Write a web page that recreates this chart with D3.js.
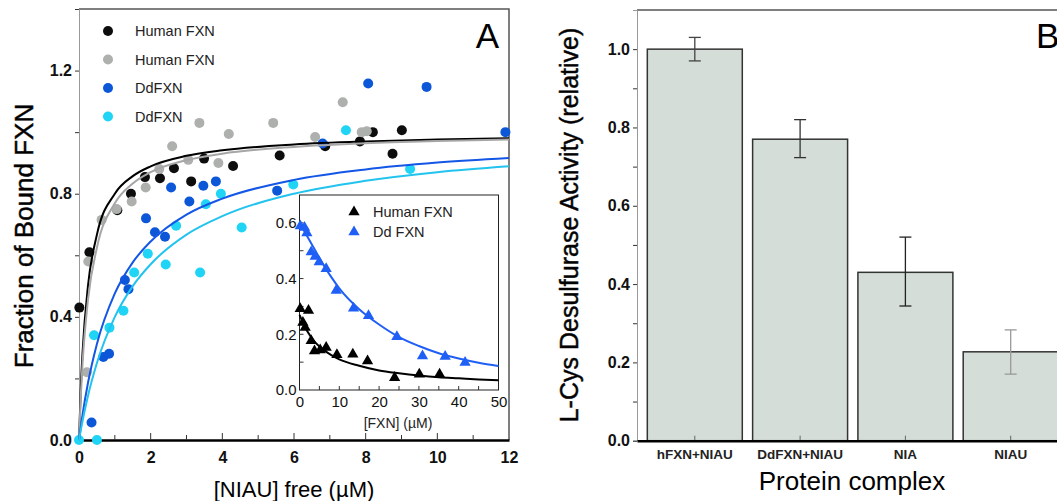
<!DOCTYPE html>
<html>
<head>
<meta charset="utf-8">
<script src="https://cdn.jsdelivr.net/npm/d3@7"></script>
<style>
  body { margin: 0; background: #fff; }
  svg { display: block; font-family: "Liberation Sans", Arial, sans-serif; }
</style>
</head>
<body>
<div id="chart"></div>
<script>
// ---- panel A: binding data (x = [NIAU] free uM, y = fraction bound) ----
const humanA_x = [0.01, 0.29, 1.07, 1.45, 1.84, 2.26, 2.65, 3.13, 3.49, 4.3, 5.6, 6.87, 7.84, 8.2, 8.75, 9.01];
const humanA_y = [0.43, 0.61, 0.746, 0.80, 0.854, 0.85, 0.883, 0.84, 0.914, 0.89, 0.924, 0.954, 0.97, 1.0, 0.93, 1.006];
const humanB_x = [0.22, 0.26, 0.63, 1.05, 1.47, 1.86, 2.24, 2.6, 3.05, 3.36, 3.89, 4.18, 5.42, 6.59, 7.36, 7.89, 8.03];
const humanB_y = [0.22, 0.58, 0.715, 0.75, 0.775, 0.82, 0.88, 0.954, 0.91, 1.03, 0.90, 0.994, 1.03, 0.984, 1.097, 1.0, 1.003];
const ddA_x = [0.35, 0.68, 0.84, 1.28, 1.38, 1.87, 2.12, 2.4, 2.57, 3.08, 3.47, 3.82, 5.53, 6.8, 8.07, 9.7, 11.9];
const ddA_y = [0.057, 0.27, 0.28, 0.52, 0.49, 0.72, 0.675, 0.66, 0.82, 0.775, 0.826, 0.84, 0.81, 0.963, 1.158, 1.147, 1.0];
const ddB_x = [0, 0.5, 0.42, 0.85, 1.24, 1.54, 1.92, 2.42, 2.71, 3.38, 3.54, 3.96, 4.54, 5.98, 7.45, 9.24];
const ddB_y = [0, 0, 0.34, 0.365, 0.42, 0.544, 0.605, 0.57, 0.696, 0.544, 0.766, 0.80, 0.69, 0.83, 1.006, 0.88];

// fitted curves
const fitX      = [0, 0.05, 0.1, 0.25, 0.5, 1, 1.5, 2, 3, 4, 6, 8, 10, 12];
const humanAFit = [0, 0.167, 0.286, 0.5, 0.667, 0.8, 0.857, 0.889, 0.923, 0.941, 0.96, 0.97, 0.976, 0.98];
const humanBFit = [0, 0.143, 0.25, 0.455, 0.625, 0.769, 0.833, 0.87, 0.909, 0.93, 0.952, 0.964, 0.971, 0.976];
const ddAFit    = [0, 0.043, 0.083, 0.185, 0.312, 0.476, 0.577, 0.645, 0.732, 0.784, 0.845, 0.879, 0.901, 0.916];
const ddBFit    = [0, 0.032, 0.0625, 0.143, 0.25, 0.4, 0.5, 0.571, 0.667, 0.727, 0.8, 0.842, 0.87, 0.889];

// ---- inset: competition ----
const inHuman_x = [0.18, 0.85, 1.43, 2.26, 2.94, 3.77, 5.2, 6.7, 9.4, 13.4, 17.1, 23.9, 30.1, 35.2];
const inHuman_y = [0.295, 0.246, 0.228, 0.289, 0.18, 0.144, 0.147, 0.156, 0.13, 0.132, 0.108, 0.048, 0.06, 0.06];
const inDd_x = [0.2, 1.26, 1.85, 2.94, 3.94, 4.95, 6.7, 9.22, 13.57, 17.34, 24.47, 30.9, 36.6, 41.6];
const inDd_y = [0.592, 0.587, 0.567, 0.499, 0.483, 0.463, 0.439, 0.361, 0.297, 0.27, 0.195, 0.126, 0.124, 0.102];
const inFitX     = [0, 2, 4, 6, 8, 10, 15, 20, 25, 30, 35, 40, 45, 50];
const inHumanFit = [0.27, 0.21, 0.17, 0.145, 0.125, 0.11, 0.087, 0.07, 0.06, 0.052, 0.046, 0.042, 0.038, 0.035];
const inDdFit    = [0.6, 0.55, 0.5, 0.45, 0.405, 0.365, 0.29, 0.235, 0.19, 0.158, 0.132, 0.113, 0.098, 0.086];

// ---- panel B: activity ----
const complexes = ["hFXN+NIAU", "DdFXN+NIAU", "NIA", "NIAU"];
const activity  = [1.0, 0.77, 0.43, 0.227];
const errLow    = [0.97, 0.723, 0.344, 0.17];
const errHigh   = [1.03, 0.82, 0.52, 0.283];

const svg = d3.select("#chart").append("svg")
    .attr("width", 1057)
    .attr("height", 501);

const zip = (xs, ys) => xs.map((x, i) => ({x: x, y: ys[i]}));

// ================= PANEL A =================
const xA = d3.scaleLinear().domain([0, 12]).range([79, 509]);
const yA = d3.scaleLinear().domain([0, 1.4]).range([440, 9]);

const gA = svg.append("g");

// frame (top + right)
gA.append("path")
    .attr("d", `M${xA(0)},${yA(1.4)}H${xA(12)}V${yA(0)}`)
    .attr("fill", "none").attr("stroke", "#555").attr("stroke-width", 1.5);

// y axis
const yAxisA = gA.append("g").attr("transform", `translate(${xA(0)},0)`)
    .call(d3.axisLeft(yA).tickValues(d3.range(0, 1.41, 0.2)).tickSize(4)
        .tickFormat(d => (Math.round(d * 10) % 4 === 0) ? d3.format(".1f")(d) : ""));
yAxisA.select(".domain").attr("stroke", "#999").attr("stroke-width", 1);
yAxisA.selectAll(".tick line").attr("stroke", "#333");
yAxisA.selectAll("text").attr("font-size", 16).attr("font-weight", "bold").attr("fill", "#111");

// x axis
const xAxisA = gA.append("g").attr("transform", `translate(0,${yA(0)})`)
    .call(d3.axisBottom(xA).tickValues(d3.range(0, 13, 1)).tickSize(0).tickPadding(12)
        .tickFormat(d => d % 2 === 0 ? d : ""));
xAxisA.select(".domain").attr("stroke", "#000").attr("stroke-width", 2.5);
xAxisA.selectAll(".tick line").remove();
xAxisA.selectAll("text").attr("font-size", 16).attr("font-weight", "bold").attr("fill", "#111");
gA.selectAll(".xtickA")
    .data(d3.range(1, 12, 1))
    .enter().append("line")
    .attr("x1", d => xA(d)).attr("x2", d => xA(d))
    .attr("y1", yA(0)).attr("y2", d => yA(0) - (d % 2 === 0 ? 7 : 5))
    .attr("stroke", "#333");

gA.append("text")
    .attr("transform", "translate(33,236) rotate(-90)")
    .attr("text-anchor", "middle")
    .attr("font-size", 26)
    .attr("stroke", "#111").attr("stroke-width", 0.5)
    .text("Fraction of Bound FXN");

gA.append("text")
    .attr("x", xA(6)).attr("y", 497)
    .attr("text-anchor", "middle")
    .attr("font-size", 22)
    .text("[NIAU] free (\u00b5M)");

gA.append("text")
    .attr("x", 499).attr("y", 48)
    .attr("text-anchor", "end")
    .attr("font-size", 35)
    .text("A");

const seriesA = [
    {name: "Human FXN", pts: zip(humanA_x, humanA_y), fit: humanAFit, dot: "#0d0d0d", line: "#000"},
    {name: "Human FXN", pts: zip(humanB_x, humanB_y), fit: humanBFit, dot: "#adb0ad", line: "#a6a6a6"},
    {name: "DdFXN", pts: zip(ddA_x, ddA_y), fit: ddAFit, dot: "#0c56d8", line: "#1456e6"},
    {name: "DdFXN", pts: zip(ddB_x, ddB_y), fit: ddBFit, dot: "#1fd4f4", line: "#22c3ef"}
];

const lineA = d3.line().x(d => xA(d.x)).y(d => yA(d.y)).curve(d3.curveMonotoneX);

seriesA.forEach(s => {
    gA.append("g").selectAll("circle")
        .data(s.pts)
        .enter().append("circle")
        .attr("cx", d => xA(d.x))
        .attr("cy", d => yA(d.y))
        .attr("r", 5)
        .attr("fill", s.dot);
});
seriesA.forEach(s => {
    gA.append("path")
        .datum(zip(fitX, s.fit))
        .attr("d", lineA)
        .attr("fill", "none")
        .attr("stroke", s.line)
        .attr("stroke-width", 2);
});

// legend
const legA = gA.append("g");
seriesA.forEach((s, i) => {
    legA.append("circle").attr("cx", 108).attr("cy", 31 + i * 28.5).attr("r", 5).attr("fill", s.dot);
    legA.append("text").attr("x", 135).attr("y", 36 + i * 28.5)
        .attr("font-size", 14.5).attr("fill", "#222").text(s.name);
});

// ================= INSET =================
const xI = d3.scaleLinear().domain([0, 50]).range([299.5, 498.5]);
const yI = d3.scaleLinear().domain([0, 0.7]).range([390, 195]);
const gI = svg.append("g");

gI.append("rect")
    .attr("x", xI(0)).attr("y", yI(0.7))
    .attr("width", xI(50) - xI(0)).attr("height", yI(0) - yI(0.7))
    .attr("fill", "#fff").attr("stroke", "#222").attr("stroke-width", 1);

const yAxisI = gI.append("g").attr("transform", `translate(${xI(0)},0)`)
    .call(d3.axisLeft(yI).tickValues([0, 0.1, 0.2, 0.3, 0.4, 0.5, 0.6]).tickSize(0).tickPadding(3)
        .tickFormat(d => (Math.round(d * 10) % 2 === 0) ? d3.format(".1f")(d) : ""));
yAxisI.select(".domain").remove();
yAxisI.selectAll("text").attr("font-size", 15).attr("fill", "#111");
gI.selectAll(".ytickI")
    .data([0.1, 0.2, 0.3, 0.4, 0.5, 0.6])
    .enter().append("line")
    .attr("x1", xI(0)).attr("x2", xI(0) + 4)
    .attr("y1", d => yI(d)).attr("y2", d => yI(d))
    .attr("stroke", "#333");

const xAxisI = gI.append("g").attr("transform", `translate(0,${yI(0)})`)
    .call(d3.axisBottom(xI).tickValues(d3.range(0, 51, 10)).tickSize(0).tickPadding(6));
xAxisI.select(".domain").remove();
xAxisI.selectAll("text").attr("font-size", 15).attr("fill", "#111");
gI.selectAll(".xtickI")
    .data(d3.range(5, 50, 5))
    .enter().append("line")
    .attr("x1", d => xI(d)).attr("x2", d => xI(d))
    .attr("y1", yI(0)).attr("y2", yI(0) - 4)
    .attr("stroke", "#333");

gI.append("text")
    .attr("x", 398).attr("y", 428)
    .attr("text-anchor", "middle")
    .attr("font-size", 14).attr("fill", "#222")
    .text("[FXN] (\u00b5M)");

const lineI = d3.line().x(d => xI(d.x)).y(d => yI(d.y)).curve(d3.curveMonotoneX);
const seriesI = [
    {name: "Human FXN", pts: zip(inHuman_x, inHuman_y), fit: inHumanFit, color: "#000"},
    {name: "Dd FXN", pts: zip(inDd_x, inDd_y), fit: inDdFit, color: "#1f5ff5"}
];
const tri = d3.symbol().type(d3.symbolTriangle).size(55);

seriesI.forEach(s => {
    gI.append("path")
        .datum(zip(inFitX, s.fit))
        .attr("d", lineI)
        .attr("fill", "none")
        .attr("stroke", s.color)
        .attr("stroke-width", 2);
    gI.append("g").selectAll("path")
        .data(s.pts)
        .enter().append("path")
        .attr("d", tri)
        .attr("transform", d => `translate(${xI(d.x)},${yI(d.y) + 1})`)
        .attr("fill", s.color);
});

seriesI.forEach((s, i) => {
    gI.append("path").attr("d", tri)
        .attr("transform", `translate(354,${212 + i * 20})`)
        .attr("fill", s.color);
    gI.append("text").attr("x", 373).attr("y", 217 + i * 20)
        .attr("font-size", 14.5).attr("fill", "#222").text(s.name);
});

// ================= PANEL B =================
const xB = d3.scaleBand().domain(complexes).range([637, 1068.5]).paddingInner(0.098).paddingOuter(0.098);
const yB = d3.scaleLinear().domain([0, 1.1]).range([440.7, 10]);
const gB = svg.append("g");

gB.append("line")
    .attr("x1", 637).attr("x2", 1057).attr("y1", yB(1.1)).attr("y2", yB(1.1))
    .attr("stroke", "#555").attr("stroke-width", 1.5);

gB.selectAll(".bar")
    .data(complexes)
    .enter().append("rect")
    .attr("class", "bar")
    .attr("x", d => xB(d))
    .attr("y", (d, i) => yB(activity[i]))
    .attr("width", xB.bandwidth())
    .attr("height", (d, i) => yB(0) - yB(activity[i]))
    .attr("fill", "#d4ddd8")
    .attr("stroke", "#333")
    .attr("stroke-width", 1.5);

const errColors = ["#444", "#333", "#222", "#999"];
complexes.forEach((c, i) => {
    const cx = xB(c) + xB.bandwidth() / 2;
    const g = gB.append("g").attr("stroke", errColors[i]).attr("stroke-width", 1.3);
    g.append("line").attr("x1", cx).attr("x2", cx).attr("y1", yB(errLow[i])).attr("y2", yB(errHigh[i]));
    g.append("line").attr("x1", cx - 6).attr("x2", cx + 6).attr("y1", yB(errLow[i])).attr("y2", yB(errLow[i]));
    g.append("line").attr("x1", cx - 6).attr("x2", cx + 6).attr("y1", yB(errHigh[i])).attr("y2", yB(errHigh[i]));
    gB.append("line").attr("x1", cx).attr("x2", cx).attr("y1", yB(0)).attr("y2", yB(0) - 5)
        .attr("stroke", "#666");
});

const yAxisB = gB.append("g").attr("transform", "translate(637,0)")
    .call(d3.axisLeft(yB).tickValues(d3.range(0, 1.01, 0.1)).tickSize(4)
        .tickFormat(d => (Math.round(d * 10) % 2 === 0) ? d3.format(".1f")(d) : ""));
yAxisB.select(".domain").attr("stroke", "#999").attr("stroke-width", 1);
yAxisB.selectAll(".tick line").attr("stroke", "#333");
yAxisB.selectAll("text").attr("font-size", 16).attr("font-weight", "bold").attr("fill", "#111");

const xAxisB = gB.append("g").attr("transform", `translate(0,${yB(0)})`)
    .call(d3.axisBottom(xB).tickSize(0).tickPadding(9));
xAxisB.select(".domain").attr("stroke", "#000").attr("stroke-width", 2.5);
xAxisB.selectAll("text").attr("font-size", 13.5).attr("font-weight", "bold").attr("fill", "#222");

gB.append("text")
    .attr("transform", "translate(578,225) rotate(-90)")
    .attr("text-anchor", "middle")
    .attr("font-size", 25)
    .attr("stroke", "#111").attr("stroke-width", 0.5)
    .text("L-Cys Desulfurase Activity (relative)");

gB.append("text")
    .attr("x", 852).attr("y", 490)
    .attr("text-anchor", "middle")
    .attr("font-size", 26)
    .text("Protein complex");

gB.append("text")
    .attr("x", 1036).attr("y", 48)
    .attr("font-size", 35)
    .text("B");
</script>
</body>
</html>
